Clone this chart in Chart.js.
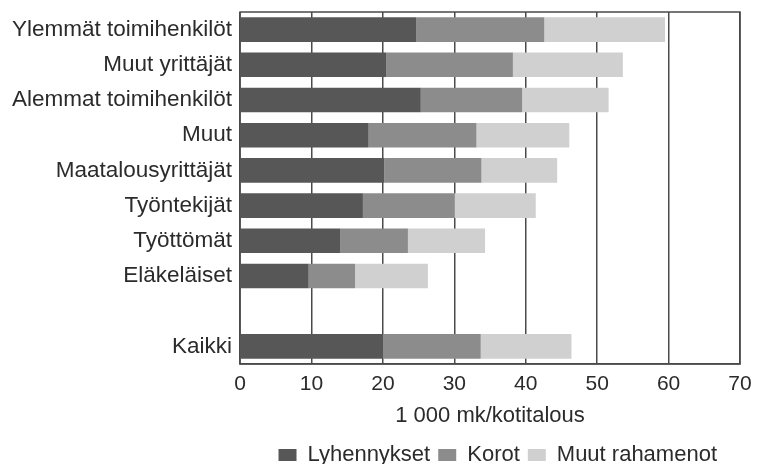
<!DOCTYPE html>
<html>
<head>
<meta charset="utf-8">
<script src="https://cdn.jsdelivr.net/npm/chart.js@4"></script>
<style>
  html, body { margin: 0; padding: 0; background: #fff; }
  #wrap { width: 764px; height: 464px; }
</style>
</head>
<body>
<div id="wrap"><canvas id="chart"></canvas></div>
<script>
// Data (1 000 mk per household), blank row before "Kaikki"
const categories = ['Ylemmät toimihenkilöt', 'Muut yrittäjät', 'Alemmat toimihenkilöt', 'Muut',
  'Maatalousyrittäjät', 'Työntekijät', 'Työttömät', 'Eläkeläiset', '', 'Kaikki'];
const lyhennykset = [24.7, 20.5, 25.3, 18.0, 20.2, 17.2, 14.0, 9.6, null, 20.0];
const korot       = [17.9, 17.7, 14.2, 15.1, 13.6, 12.8, 9.5, 6.5, null, 13.7];
const muutMenot   = [16.9, 15.4, 12.1, 13.0, 10.6, 11.4, 10.8, 10.2, null, 12.7];
const xTicks = [0, 10, 20, 30, 40, 50, 60, 70];

const font = 'Liberation Sans, Arial, sans-serif';
const ink = '#2b2b2b';

// frame around the plot area
const frame = {
  id: 'frame',
  afterDraw(chart) {
    const a = chart.chartArea, c = chart.ctx;
    c.save();
    c.strokeStyle = '#4a4a4a';
    c.lineWidth = 1.5;
    c.strokeRect(a.left, a.top, a.right - a.left, a.bottom - a.top);
    c.restore();
  }
};

// nudge legend: a bit left and down like in the printed original
const legendShift = {
  id: 'legendShift',
  afterLayout(chart) {
    const lg = chart.legend;
    if (!lg) return;
    lg.left -= 15; lg.right -= 15;
    lg.top += 9; lg.bottom += 9;
  }
};

const ctx = document.getElementById('chart').getContext('2d');
new Chart(ctx, {
  type: 'bar',
  data: {
    labels: categories,
    datasets: [
      { label: 'Lyhennykset', data: lyhennykset, backgroundColor: '#575757' },
      { label: 'Korot', data: korot, backgroundColor: '#8c8c8c' },
      { label: 'Muut rahamenot', data: muutMenot, backgroundColor: '#d0d0d0' }
    ]
  },
  options: {
    indexAxis: 'y',
    responsive: true,
    maintainAspectRatio: false,
    animation: false,
    layout: { padding: { top: 12, right: 24, left: 12, bottom: -3 } },
    datasets: { bar: { barPercentage: 0.7, categoryPercentage: 1 } },
    scales: {
      x: {
        stacked: true,
        min: 0, max: 70,
        afterBuildTicks: (axis) => { axis.ticks = xTicks.map(v => ({ value: v })); },
        grid: { color: '#4a4a4a', lineWidth: 1.5, drawTicks: false },
        border: { color: '#4a4a4a', width: 1.5 },
        ticks: { color: ink, padding: 10, font: { family: font, size: 21, lineHeight: 1 } },
        title: { display: true, text: '1 000 mk/kotitalous', color: ink, padding: { top: 0, bottom: 0 },
          font: { family: font, size: 22, lineHeight: 1 } }
      },
      y: {
        stacked: true,
        grid: { display: false, drawTicks: true, tickLength: 8 },
        border: { display: false },
        ticks: { color: ink, padding: 0, autoSkip: false, font: { family: font, size: 22.5, lineHeight: 1 } }
      }
    },
    plugins: {
      legend: {
        position: 'bottom',
        align: 'end',
        labels: { color: ink, boxWidth: 18, boxHeight: 12, padding: 8, font: { family: font, size: 22, lineHeight: 1 } }
      },
      tooltip: { enabled: false }
    }
  },
  plugins: [frame, legendShift]
});
</script>
</body>
</html>
